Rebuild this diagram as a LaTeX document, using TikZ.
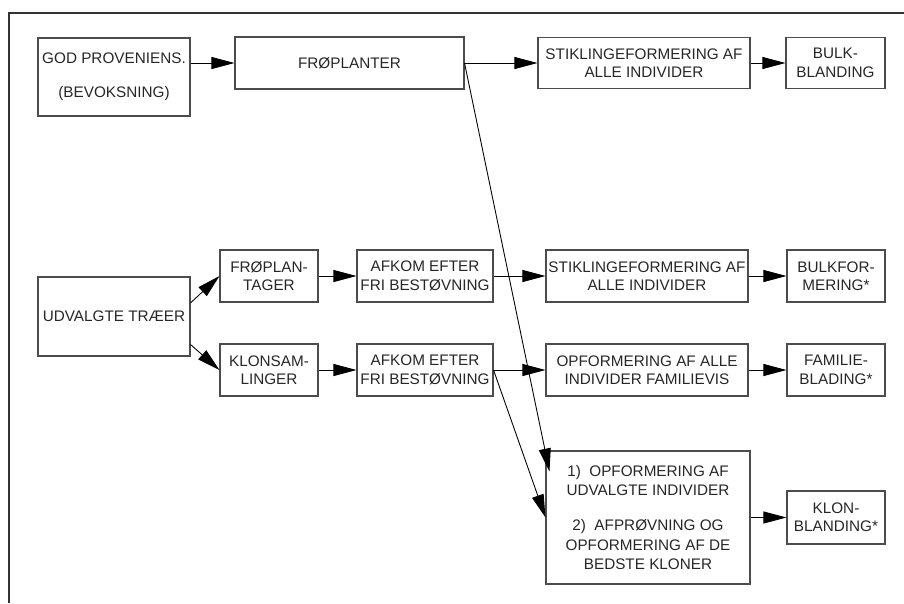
\documentclass[tikz,border=0pt]{standalone}
\usepackage{fontspec}
\setmainfont{Liberation Sans}
\usetikzlibrary{calc,arrows.meta}

\tikzset{
	boks/.style={draw=black!70, line width=0.6pt, align=center, inner sep=0pt, text=black!85,
		font=\fontsize{8.7}{10.5}\selectfont},
	maal/.style 2 args={minimum width=#1*0.02cm, minimum height=#2*0.02cm},
	pil/.style={-{Triangle[length=0.46cm, width=0.24cm]}, line width=0.5pt},
}

\begin{document}
\begin{tikzpicture}[x=0.02cm, y=-0.02cm]
			%%%%% START %%%%%
			\useasboundingbox (0, 0) rectangle (904, 603);
			
			\draw[line width=0.8pt, color=black!80] (9, 603) -- (9, 13) -- (904, 13);
			
			% oeverste raekke
			\node[boks, maal={152}{78}] (god) at (114, 77) {GOD PROVENIENS.\\[9pt](BEVOKSNING)};
			\node[boks, maal={229}{52}] (froe) at (349.5, 63) {FRØPLANTER};
			\node[boks, maal={212}{51}] (stik1) at (644, 63) {STIKLINGEFORMERING AF\\ALLE INDIVIDER};
			\node[boks, maal={99}{51}] (bulk1) at (835.5, 63) {BULK-\\BLANDING};
			
			% udvalgte traeer
			\node[boks, maal={152}{79}] (udv) at (114, 316.5) {UDVALGTE TRÆER};
			\node[boks, maal={98}{52}] (frpl) at (269, 276) {FRØPLAN-\\TAGER};
			\node[boks, maal={98}{52}] (klon) at (269, 370) {KLONSAM-\\LINGER};
			\node[boks, maal={136}{52}] (afk1) at (425, 276) {AFKOM EFTER\\FRI BESTØVNING};
			\node[boks, maal={136}{52}] (afk2) at (425, 370) {AFKOM EFTER\\FRI BESTØVNING};
			\node[boks, maal={202}{52}] (stik2) at (647, 276) {STIKLINGEFORMERING AF\\ALLE INDIVIDER};
			\node[boks, maal={202}{52}] (opf) at (647, 370) {OPFORMERING AF ALLE\\INDIVIDER FAMILIEVIS};
			\node[boks, maal={98}{52}] (bulk2) at (836, 276) {BULKFOR-\\MERING*};
			\node[boks, maal={98}{52}] (fam) at (836, 370) {FAMILIE-\\BLADING*};
			
			\node[boks, maal={204}{133}, font=\fontsize{8.7}{11}\selectfont] (big) at (648, 517.5)
				{1)\ \ OPFORMERING AF\\UDVALGTE INDIVIDER\\[9pt]2)\ \ AFPRØVNING OG\\OPFORMERING AF DE\\BEDSTE KLONER};
			\node[boks, maal={98}{53}] (klonb) at (836, 517.5) {KLON-\\BLANDING*};
			
			% pile
			\draw[pil] (froe.west -| god.east) -- (froe.west);
			\draw[pil] (froe.east) -- (stik1.west);
			\draw[pil] (stik1.east) -- (bulk1.west);
			\coordinate (ind) at ($(big.north west)+(4, 21)$);
			\draw[pil] (froe.east) -- (ind);
			
			\draw[pil] ($(udv.north east)!0.33!(udv.south east)$) -- (frpl.west);
			\draw[pil] ($(udv.north east)!0.85!(udv.south east)$) -- (klon.west);
			\draw[pil] (frpl.east) -- (afk1.west);
			\draw[pil] (klon.east) -- (afk2.west);
			\draw[pil] (afk1.east) -- (stik2.west);
			\draw[pil] (afk2.east) -- (opf.west);
			\draw[pil] (stik2.east) -- (bulk2.west);
			\draw[pil] (opf.east) -- (fam.west);
			\draw[pil] (afk2.east) -- (big.west);
			\draw[pil] (big.east) -- (klonb.west);
			
			%%%%% END %%%%%
\end{tikzpicture}
\end{document}
